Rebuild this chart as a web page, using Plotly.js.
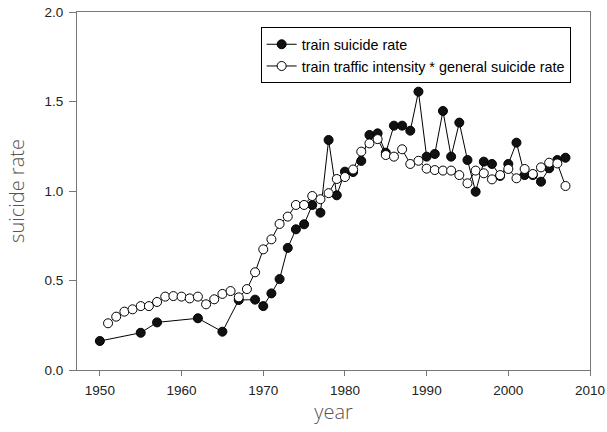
<!DOCTYPE html>
<html><head><meta charset="utf-8">
<script src="https://cdn.plot.ly/plotly-3.0.1.min.js"></script>
<style>html,body{margin:0;padding:0;background:#fff}#chart{width:607px;height:432px}</style>
</head><body><div id="chart"></div>
<script>
const trainYears = [1950,1955,1957,1962,1965,1967,1969,1970,1971,1972,1973,1974,1975,1976,1977,1978,1979,1980,1981,1982,1983,1984,1985,1986,1987,1988,1989,1990,1991,1992,1993,1994,1995,1996,1997,1998,1999,2000,2001,2002,2003,2004,2005,2006,2007];
const trainRate = [0.162,0.208,0.266,0.289,0.214,0.391,0.393,0.357,0.428,0.508,0.682,0.786,0.814,0.922,0.879,1.285,0.976,1.108,1.106,1.168,1.313,1.322,1.214,1.365,1.365,1.337,1.555,1.192,1.207,1.447,1.192,1.382,1.173,0.996,1.164,1.151,1.084,1.151,1.27,1.089,1.089,1.052,1.127,1.173,1.186];
const expYears = [1951,1952,1953,1954,1955,1956,1957,1958,1959,1960,1961,1962,1963,1964,1965,1966,1967,1968,1969,1970,1971,1972,1973,1974,1975,1976,1977,1978,1979,1980,1981,1982,1983,1984,1985,1986,1987,1988,1989,1990,1991,1992,1993,1994,1995,1996,1997,1998,1999,2000,2001,2002,2003,2004,2005,2006,2007];
const expRate = [0.261,0.298,0.326,0.339,0.357,0.357,0.38,0.41,0.413,0.41,0.40,0.41,0.367,0.395,0.425,0.441,0.406,0.452,0.546,0.674,0.73,0.816,0.857,0.922,0.922,0.972,0.954,0.988,1.067,1.078,1.12,1.22,1.266,1.29,1.201,1.192,1.233,1.151,1.169,1.125,1.117,1.114,1.114,1.089,1.043,1.114,1.099,1.065,1.089,1.123,1.071,1.123,1.095,1.132,1.158,1.154,1.028];
const xTicks = [1950,1960,1970,1980,1990,2000,2010];
const yTicks = [0,0.5,1,1.5,2];

const data = [
  {x: trainYears, y: trainRate, name: 'train suicide rate', type: 'scatter', mode: 'lines+markers',
   line: {color: '#000', width: 1}, marker: {symbol: 'circle', size: 9, color: '#111', line: {color: '#000', width: 1}}},
  {x: expYears, y: expRate, name: 'train traffic intensity * general suicide rate', type: 'scatter', mode: 'lines+markers',
   line: {color: '#000', width: 1}, marker: {symbol: 'circle', size: 9, color: '#fff', line: {color: '#000', width: 1}}}
];
const tickFont = {family: 'Liberation Sans, Arial', size: 13.5, color: '#222'};
const titleFont = {family: 'Open Sans, Lato', size: 20, color: '#555', weight: 300};
const axisCommon = {showgrid: false, zeroline: false, showline: true, linecolor: '#777', linewidth: 1, mirror: true,
  ticks: 'outside', tickcolor: '#777', tickfont: tickFont};
const layout = {
  width: 607, height: 432,
  margin: {l: 77, r: 17, t: 12, b: 62},
  paper_bgcolor: '#fff', plot_bgcolor: '#fff',
  showlegend: true,
  legend: {x: 0.358, y: 0.957, xanchor: 'left', yanchor: 'top', bgcolor: '#fff', bordercolor: '#000', borderwidth: 1,
    font: {family: 'Liberation Sans, Arial', size: 14.4, color: '#000'}, tracegroupgap: 0, entrywidth: 322},
  xaxis: Object.assign({}, axisCommon, {range: [1947.2, 2010], tickvals: xTicks, ticktext: xTicks.map(String),
    ticklen: 5, ticklabelstandoff: 3,
    title: {text: 'year', font: titleFont, standoff: 0}}),
  yaxis: Object.assign({}, axisCommon, {range: [0, 2], tickvals: yTicks, ticktext: yTicks.map(v => v.toFixed(1)),
    ticklen: 7, ticklabelstandoff: 3,
    title: {text: 'suicide rate', font: titleFont, standoff: 14}})
};
Plotly.newPlot('chart', data, layout, {displayModeBar: false, staticPlot: true});
</script></body></html>
